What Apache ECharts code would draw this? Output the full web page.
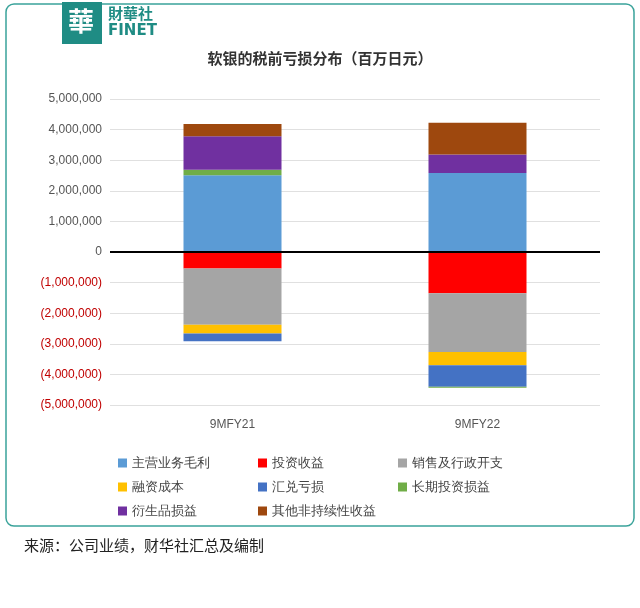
<!DOCTYPE html><html><head><meta charset="utf-8"><script src="https://cdn.jsdelivr.net/npm/echarts@6/dist/echarts.min.js"></script>
<style>body{margin:0;background:#fff;font-family:"Noto Sans CJK SC";}#c{width:640px;height:608px;}</style></head><body><div id="c"></div><script>
const categories=['9MFY21','9MFY22'];
const names=['主营业务毛利','投资收益','销售及行政开支','融资成本','汇兑亏损','长期投资损益','衍生品损益','其他非持续性收益'];
const colors=['#5b9bd5','#ff0000','#a5a5a5','#ffc000','#4472c4','#70ad47','#7030a0','#9e480e'];
const grossProfit=[2510000,2580000];
const investGain=[-540000,-1350000];
const sga=[-1840000,-1920000];
const financeCost=[-280000,-430000];
const fxLoss=[-260000,-700000];
const longTermInv=[180000,-40000];
const derivatives=[1090000,610000];
const otherGain=[400000,1030000];
const values=[grossProfit,investGain,sga,financeCost,fxLoss,longTermInv,derivatives,otherGain];
const c=echarts.init(document.getElementById('c'));
const fmt=v=>{const s=Math.abs(v).toLocaleString('en-US');return v<0?'('+s+')':s;};
c.setOption({
 animation:false,
 graphic:[
  {type:'rect',shape:{x:6,y:4,width:628,height:522,r:8},style:{fill:'none',stroke:'#3aa39a',lineWidth:1.5}},
  {type:'rect',shape:{x:62,y:2,width:40,height:42},style:{fill:'#1f8c84'}},
  {type:'text',left:68,top:8,style:{text:'華',fill:'#fff',font:'bold 26px "Noto Sans CJK TC"'}},
  {type:'text',left:108,top:6,style:{text:'財華社',fill:'#1f8c84',font:'bold 15px "Noto Sans CJK TC"'}},
  {type:'text',left:108,top:24,style:{text:'FINET',fill:'#1f8c84',font:'bold 15px "DejaVu Sans"'}},
  {type:'text',left:24,top:538,style:{text:'来源：公司业绩，财华社汇总及编制',fill:'#222',font:'15px "Noto Sans CJK SC"'}}
 ],
 title:{text:'软银的税前亏损分布（百万日元）',left:'center',top:46,textStyle:{fontSize:15,fontWeight:'bold',color:'#333',fontFamily:'Noto Sans CJK SC'}},
 grid:{left:110,right:40,top:99,bottom:203},
 legend:{top:451,left:113,width:430,itemWidth:9,itemHeight:9,itemGap:10,textStyle:{fontSize:13,color:'#444',width:116,overflow:'truncate',lineHeight:14},icon:'rect'},
 xAxis:{type:'category',data:categories,axisLine:{show:false},axisTick:{show:false},
   axisLabel:{color:'#555',fontSize:12,margin:14,interval:0}},
 yAxis:{type:'value',min:-5000000,max:5000000,interval:1000000,
   axisLabel:{formatter:fmt,fontSize:12,color:v=>v<0?'#c00000':'#555'},
   splitLine:{lineStyle:{color:'#e0e0e0'}},axisLine:{show:false}},
 series:names.map((n,i)=>({name:n,type:'bar',stack:'a',barWidth:'40%',data:values[i],itemStyle:{color:colors[i]},
   markLine:i===0?{silent:true,symbol:'none',label:{show:false},lineStyle:{color:'#000',width:2,type:'solid'},data:[{yAxis:0}]}:undefined}))
});
</script></body></html>
